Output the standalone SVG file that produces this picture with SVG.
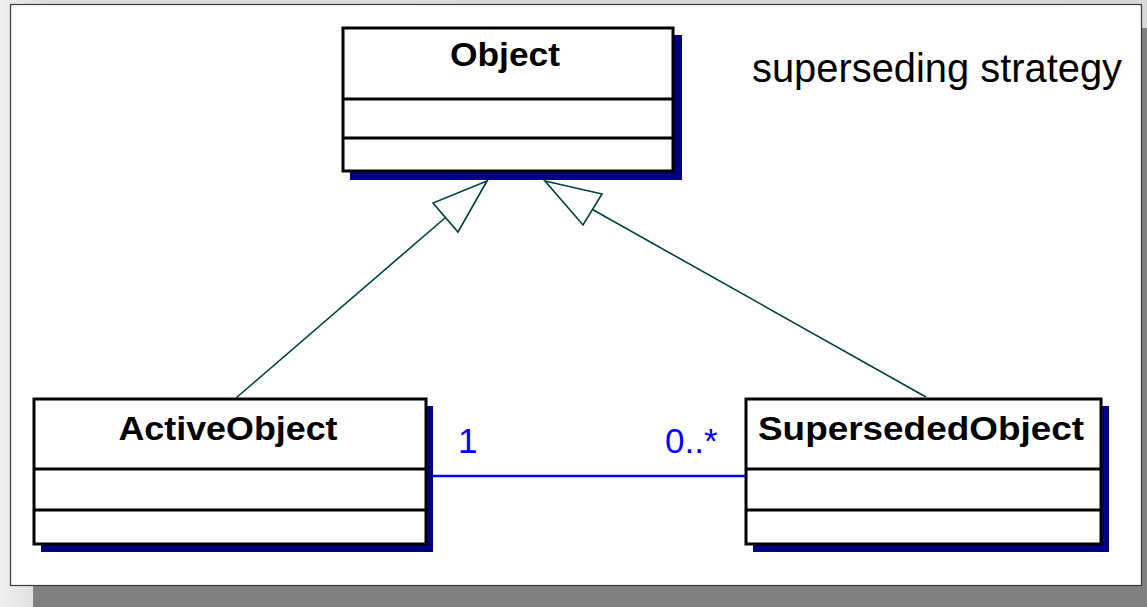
<svg xmlns="http://www.w3.org/2000/svg" width="1147" height="607" viewBox="0 0 1147 607">
<defs>
<linearGradient id="bg" x1="0" y1="0" x2="1" y2="0">
<stop offset="0" stop-color="#efefef"/>
<stop offset="0.04" stop-color="#dcdcdc"/>
<stop offset="1" stop-color="#d9d9d9"/>
</linearGradient>
<style>
.box{fill:#fff;stroke:#000;stroke-width:3}
.shadow{fill:#000080}
.div{stroke:#000;stroke-width:3}
.name{font-family:"Liberation Sans",Arial,sans-serif;font-weight:bold;font-size:34px;fill:#000;text-anchor:middle}
.gen{stroke:#004040;stroke-width:1.6;fill:none}
.tri{stroke:#004040;stroke-width:1.6;fill:#fff;stroke-linejoin:miter}
.assoc{stroke:#0000ff;stroke-width:2.5}
.mult{font-family:"Liberation Sans",Arial,sans-serif;font-size:35px;fill:#0000ff}
</style>
</defs>
<rect x="0" y="0" width="1147" height="607" fill="url(#bg)"/>
<rect x="33" y="28" width="1114" height="579" fill="#808080"/>
<rect x="10.5" y="4.5" width="1131" height="581" fill="#fff" stroke="#3a3a3a" stroke-width="1.2"/>
<text x="937" y="82" font-family="Liberation Sans, Arial, sans-serif" font-size="40" text-anchor="middle" fill="#000" textLength="370" lengthAdjust="spacingAndGlyphs">superseding strategy</text>

<g id="node-object">
<rect class="shadow" x="350" y="35" width="332" height="145"/>
<rect class="box" x="343" y="28" width="330" height="143"/>
<line class="div" x1="343" y1="99" x2="673" y2="99"/>
<line class="div" x1="343" y1="138" x2="673" y2="138"/>
<text class="name" x="505" y="66" textLength="110" lengthAdjust="spacingAndGlyphs">Object</text>
</g>

<g id="node-activeobject">
<rect class="shadow" x="41" y="406" width="392" height="146"/>
<rect class="box" x="34" y="399" width="392" height="145"/>
<line class="div" x1="34" y1="469" x2="426" y2="469"/>
<line class="div" x1="34" y1="510" x2="426" y2="510"/>
<text class="name" x="228" y="440" textLength="219" lengthAdjust="spacingAndGlyphs">ActiveObject</text>
</g>

<g id="node-supersededobject">
<rect class="shadow" x="753" y="406" width="356" height="146"/>
<rect class="box" x="746" y="399" width="355" height="145"/>
<line class="div" x1="746" y1="469" x2="1101" y2="469"/>
<line class="div" x1="746" y1="510" x2="1101" y2="510"/>
<text class="name" x="921" y="440" textLength="326" lengthAdjust="spacingAndGlyphs">SupersededObject</text>
</g>

<g id="connectors">
<line class="gen" x1="236" y1="398" x2="445.5" y2="217.5"/>
<polygon class="tri" points="487,181 433,203 458,232"/>
<line class="gen" x1="926" y1="397" x2="592.5" y2="209.5"/>
<polygon class="tri" points="545,181 602,194 583,225"/>
<line class="assoc" x1="433" y1="476" x2="745" y2="476"/>
<text class="mult" x="458" y="453">1</text>
<text class="mult" x="665" y="453">0..*</text>
</g>
</svg>
